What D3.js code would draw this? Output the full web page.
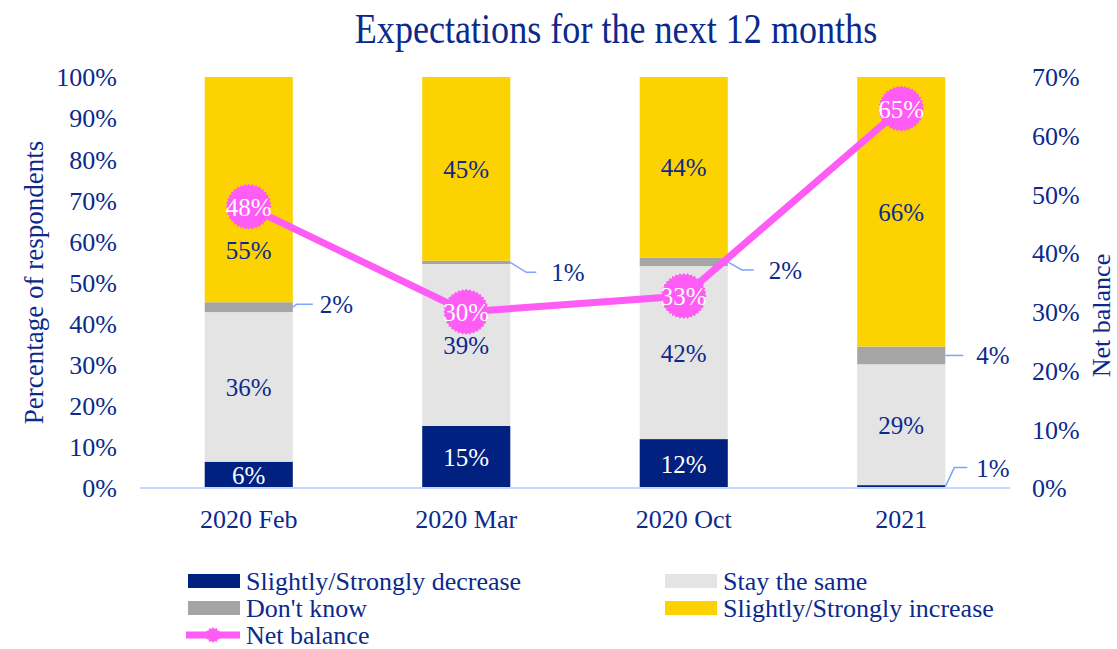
<!DOCTYPE html>
<html>
<head>
<meta charset="utf-8">
<script src="https://cdn.jsdelivr.net/npm/d3@7"></script>
<style>
  body { margin: 0; background: #fff; }
  text { font-family: "Liberation Serif", "Times New Roman", serif; fill: #0b2a8c; }
</style>
</head>
<body>
<div id="chart"></div>
<script>
const categories = ["2020 Feb", "2020 Mar", "2020 Oct", "2021"];
const decrease = [6.4, 15.1, 11.9, 0.7];
const stayTheSame = [36.4, 39.4, 42.1, 29.4];
const dontKnow = [2.4, 0.8, 2.0, 4.3];
const increase = [54.8, 44.7, 44.0, 65.6];
const netBalance = [47.9, 30.0, 32.7, 64.6];
const leftTicks = [0, 10, 20, 30, 40, 50, 60, 70, 80, 90, 100];
const rightTicks = [0, 10, 20, 30, 40, 50, 60, 70];

const width = 1117, height = 649;
const margin = {top: 77, bottom: 161, left: 140, right: 107};
const navy = "#0b2a8c";

const series = [
  {key: "dec", name: "Slightly/Strongly decrease", values: decrease, color: "#00217f", label: "#fff"},
  {key: "stay", name: "Stay the same", values: stayTheSame, color: "#e4e4e4", label: navy},
  {key: "dk", name: "Don't know", values: dontKnow, color: "#a5a5a5", label: navy},
  {key: "inc", name: "Slightly/Strongly increase", values: increase, color: "#fcd200", label: navy}
];

const svg = d3.select("#chart").append("svg")
  .attr("width", width)
  .attr("height", height);

const xScale = d3.scaleBand()
  .domain(categories)
  .range([margin.left, width - margin.right])
  .paddingInner(0.595)
  .paddingOuter(0.2975);

const yScale = d3.scaleLinear()
  .domain([0, 100])
  .range([height - margin.bottom, margin.top]);

const y2Scale = d3.scaleLinear()
  .domain([0, 70])
  .range([height - margin.bottom, margin.top]);

// stacking
const rows = categories.map((c, i) => {
  const r = {cat: c};
  series.forEach(s => r[s.key] = s.values[i]);
  return r;
});
const stack = d3.stack().keys(series.map(s => s.key))(rows);

// title (condensed like the original)
svg.append("text")
  .attr("transform", "translate(616,43) scale(0.86,1)")
  .attr("text-anchor", "middle")
  .attr("font-size", 42)
  .text("Expectations for the next  12 months");

// axes
const yAxis = d3.axisLeft(yScale).tickValues(leftTicks).tickSize(0).tickPadding(23)
  .tickFormat(d => d + "%");
const gy = svg.append("g").attr("transform", "translate(" + margin.left + ",0)").call(yAxis);
gy.select(".domain").remove();
gy.selectAll("text").attr("font-size", 26).attr("font-family", "Liberation Serif").attr("fill", navy).attr("dy", "0.34em");

const y2Axis = d3.axisRight(y2Scale).tickValues(rightTicks).tickSize(0).tickPadding(22)
  .tickFormat(d => d + "%");
const gy2 = svg.append("g").attr("transform", "translate(" + (width - margin.right) + ",0)").call(y2Axis);
gy2.select(".domain").remove();
gy2.selectAll("text").attr("font-size", 26).attr("font-family", "Liberation Serif").attr("fill", navy).attr("dy", "0.34em");

svg.append("text")
  .attr("transform", "translate(43," + ((margin.top + height - margin.bottom) / 2) + ") rotate(-90)")
  .attr("text-anchor", "middle")
  .attr("font-size", 27)
  .text("Percentage of respondents");

svg.append("text")
  .attr("transform", "translate(1110," + ((margin.top + height - margin.bottom) / 2 + 33) + ") rotate(-90)")
  .attr("text-anchor", "middle")
  .attr("font-size", 26)
  .text("Net balance");

// bars
const layers = svg.selectAll(".layer")
  .data(stack)
  .enter().append("g")
  .attr("class", "layer")
  .attr("fill", (d, i) => series[i].color);

layers.selectAll("rect")
  .data(d => d)
  .enter().append("rect")
  .attr("x", d => xScale(d.data.cat))
  .attr("width", xScale.bandwidth())
  .attr("y", d => yScale(d[1]))
  .attr("height", d => yScale(d[0]) - yScale(d[1]));

// baseline
svg.append("line")
  .attr("x1", margin.left).attr("x2", width - margin.right)
  .attr("y1", yScale(0)).attr("y2", yScale(0))
  .attr("stroke", "#c6d6ff").attr("stroke-width", 2);

// x labels
svg.selectAll(".x-label")
  .data(categories)
  .enter().append("text")
  .attr("class", "x-label")
  .attr("x", d => xScale(d) + xScale.bandwidth() / 2)
  .attr("y", yScale(0) + 40)
  .attr("text-anchor", "middle")
  .attr("font-size", 26)
  .text(d => d);

// labels inside segments (the first yellow label was nudged below the marker)
const nudge = {"inc-0": 60};
stack.forEach((layer, li) => {
  const s = series[li];
  if (s.key === "dk") return;
  layer.forEach((d, i) => {
    if (s.key === "dec" && d[1] - d[0] < 2) return;
    const cy = (yScale(d[0]) + yScale(d[1])) / 2 + (nudge[s.key + "-" + i] || 0);
    svg.append("text")
      .attr("x", xScale(d.data.cat) + xScale.bandwidth() / 2)
      .attr("y", cy + 9)
      .attr("text-anchor", "middle")
      .attr("font-size", 25)
      .style("fill", s.label)
      .text(Math.round(d[1] - d[0]) + "%");
  });
});

// outside labels with leader lines
const callouts = [];
stack.forEach((layer, li) => {
  const s = series[li];
  layer.forEach((d, i) => {
    if (s.key === "dk" || (s.key === "dec" && d[1] - d[0] < 2)) {
      callouts.push({cat: d.data.cat, y: (yScale(d[0]) + yScale(d[1])) / 2, v: d[1] - d[0], key: s.key});
    }
  });
});
// leader shapes: [elbow dx, dy, end dx, label dx]
const leader = {
  "dk-2020 Feb": [4, -3, 20, 27],
  "dk-2020 Mar": [16, 10, 26, 41],
  "dk-2020 Oct": [14, 8, 26, 41],
  "dk-2021": [4, 0, 18, 31],
  "dec-2021": [9, -19, 22, 31]
};
callouts.forEach(c => {
  const x0 = xScale(c.cat) + xScale.bandwidth();
  const l = leader[c.key + "-" + c.cat];
  svg.append("path")
    .attr("d", d3.line()([[x0, c.y], [x0 + l[0], c.y + l[1]], [x0 + l[2], c.y + l[1]]]))
    .attr("fill", "none")
    .attr("stroke", "#7ea3ff")
    .attr("stroke-width", 1.5);
  svg.append("text")
    .attr("x", x0 + l[3])
    .attr("y", c.y + l[1] + 9)
    .attr("font-size", 25)
    .text(Math.round(c.v) + "%");
});

// net balance line
const magenta = "#ff5cf5";
const line = d3.line()
  .x((d, i) => xScale(categories[i]) + xScale.bandwidth() / 2)
  .y(d => y2Scale(d));

svg.append("path")
  .datum(netBalance)
  .attr("d", line)
  .attr("fill", "none")
  .attr("stroke", magenta)
  .attr("stroke-width", 7);

function burst(r, teeth) {
  const pts = [];
  for (let k = 0; k < teeth * 2; k++) {
    const a = k * Math.PI / teeth;
    const rr = k % 2 ? r - 1.8 : r;
    pts.push([Math.cos(a) * rr, Math.sin(a) * rr]);
  }
  return d3.line()(pts) + "Z";
}

svg.selectAll(".marker")
  .data(netBalance)
  .enter().append("path")
  .attr("class", "marker")
  .attr("transform", (d, i) => "translate(" + (xScale(categories[i]) + xScale.bandwidth() / 2) + "," + y2Scale(d) + ")")
  .attr("d", burst(23, 36))
  .attr("fill", magenta);

svg.selectAll(".nb-label")
  .data(netBalance)
  .enter().append("text")
  .attr("class", "nb-label")
  .attr("x", (d, i) => xScale(categories[i]) + xScale.bandwidth() / 2)
  .attr("y", d => y2Scale(d) + 9)
  .attr("text-anchor", "middle")
  .attr("font-size", 25)
  .style("fill", "#fff")
  .text(d => Math.round(d) + "%");

// legend
const legendItems = [
  {s: series[0], x: 188, y: 581},
  {s: series[1], x: 665, y: 581},
  {s: series[2], x: 188, y: 608},
  {s: series[3], x: 665, y: 608}
];
legendItems.forEach(it => {
  svg.append("rect")
    .attr("x", it.x).attr("y", it.y - 7)
    .attr("width", 52).attr("height", 14)
    .attr("fill", it.s.color);
  svg.append("text")
    .attr("x", it.x + 58).attr("y", it.y + 9)
    .attr("font-size", 26)
    .text(it.s.name);
});
svg.append("line")
  .attr("x1", 186).attr("x2", 240)
  .attr("y1", 635).attr("y2", 635)
  .attr("stroke", magenta).attr("stroke-width", 7);
svg.append("path")
  .attr("transform", "translate(213,635)")
  .attr("d", burst(8, 12))
  .attr("fill", magenta);
svg.append("text")
  .attr("x", 246).attr("y", 644)
  .attr("font-size", 26)
  .text("Net balance");
</script>
</body>
</html>
